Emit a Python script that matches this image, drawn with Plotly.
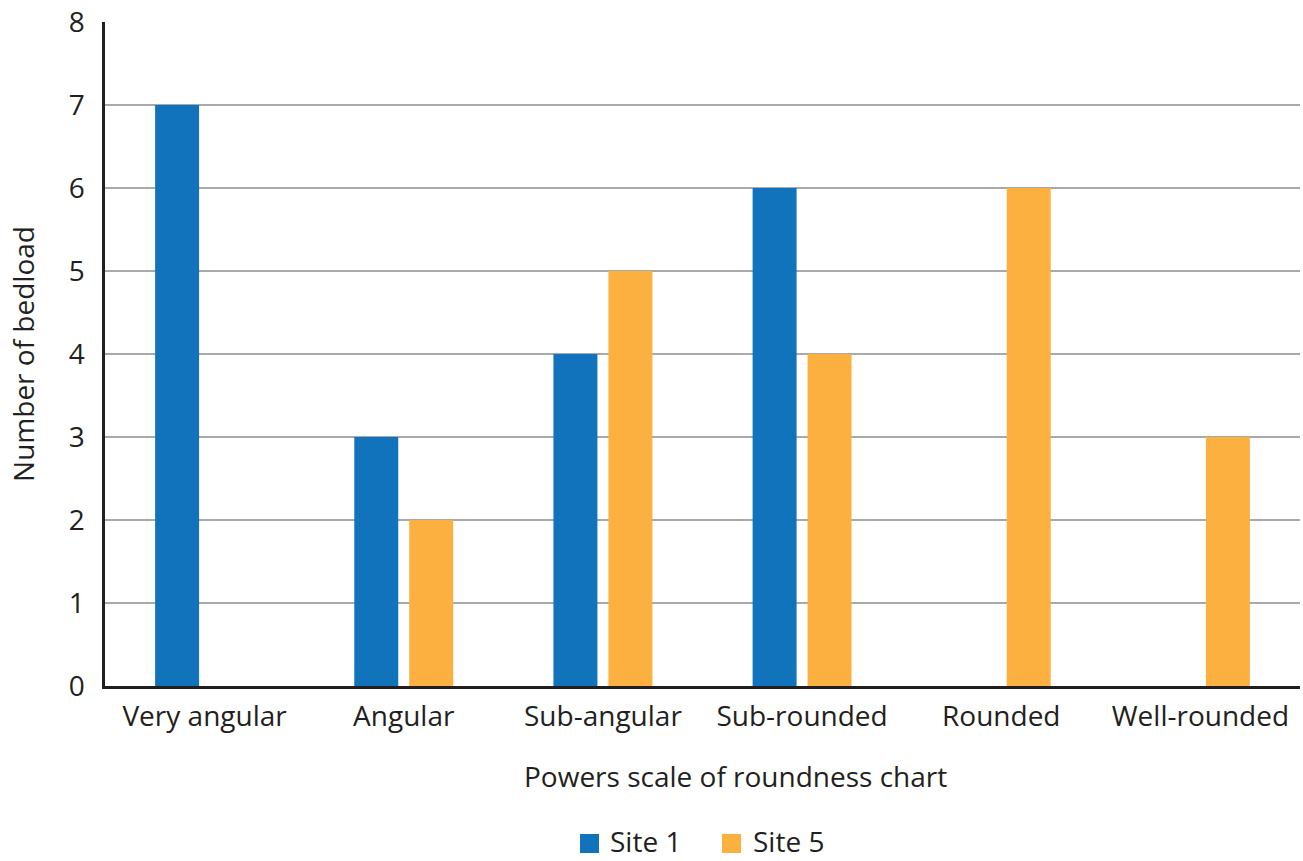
import plotly.graph_objects as go

categories = ["Very angular", "Angular", "Sub-angular", "Sub-rounded", "Rounded", "Well-rounded"]
site1 = [7, 3, 4, 6, 0, 0]
site5 = [0, 2, 5, 4, 6, 3]
y_ticks = [0, 1, 2, 3, 4, 5, 6, 7, 8]
series_names = ["Site 1", "Site 5"]
series_colors = ["#1173bb", "#fbb040"]

FONT = "Open Sans, Noto Sans, sans-serif"
INK = "#231f20"
W, H = 1303, 861
L, R, T, B = 105, 3, 22, 175
PW, PH = W - L - R, H - T - B


def px_to_paper(px, py):
    return (px - L) / PW, (H - B - py) / PH


fig = go.Figure()
for name, vals, col in zip(series_names, [site1, site5], series_colors):
    fig.add_trace(go.Bar(x=categories, y=vals, name=name, showlegend=False,
                         marker=dict(color=col, line=dict(width=0))))

# Legend drawn as swatches + labels below the axis title
shapes, annotations = [], []
legend_items = [(580, 608), (722, 751)]
for (sx, tx), name, col in zip(legend_items, series_names, series_colors):
    x0, y0 = px_to_paper(sx, 853)
    x1, y1 = px_to_paper(sx + 19, 834)
    shapes.append(dict(type="rect", xref="paper", yref="paper", x0=x0, x1=x1, y0=y0, y1=y1,
                       fillcolor=col, line=dict(width=0)))
    ax, ay = px_to_paper(tx, 841)
    annotations.append(dict(text=name, xref="paper", yref="paper", x=ax, y=ay,
                            xanchor="left", yanchor="middle", showarrow=False,
                            font=dict(size=28, color=INK)))

tx, ty = px_to_paper(735, 776)
annotations.append(dict(text="Powers scale of roundness chart", xref="paper", yref="paper",
                        x=tx, y=ty, xanchor="center", yanchor="middle", showarrow=False,
                        font=dict(size=28, color=INK)))

fig.update_layout(
    width=W, height=H,
    margin=dict(l=L, r=R, t=T, b=B, autoexpand=False),
    paper_bgcolor="white", plot_bgcolor="white",
    barmode="group", bargap=0.448, bargroupgap=0.2,
    font=dict(family=FONT, size=28, color=INK),
    showlegend=False,
    xaxis=dict(showgrid=False, showline=True, linecolor=INK, linewidth=2.5,
               ticks="", tickfont=dict(size=28, color=INK), ticklabelstandoff=4),
    yaxis=dict(range=[0, 8], tickvals=y_ticks, showgrid=True, gridcolor="#a7a9ac", gridwidth=2,
               showline=True, linecolor=INK, linewidth=2.5, ticks="", zeroline=False,
               tickfont=dict(size=28, color=INK), ticklabelstandoff=12,
               title=dict(text="Number of bedload", font=dict(size=28, color=INK), standoff=26)),
    shapes=shapes,
    annotations=annotations,
)

fig.write_html("out.html")
